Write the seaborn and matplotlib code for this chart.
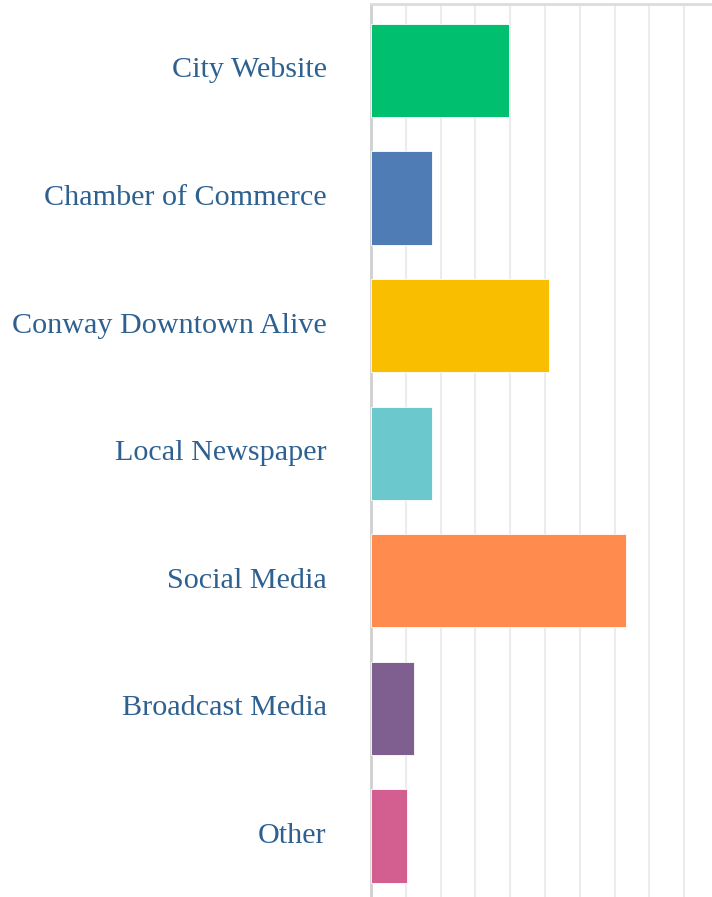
import pandas as pd
import seaborn as sns
import matplotlib.pyplot as plt
import numpy as np

# survey data (one gridline = 2)
categories = ['City Website', 'Chamber of Commerce', 'Conway Downtown Alive',
              'Local Newspaper', 'Social Media', 'Broadcast Media', 'Other']
values = [7.95, 3.5, 10.25, 3.5, 14.65, 2.48, 2.06]
colors = ['#00bf6f', '#507cb6', '#f9be00', '#6bc8cd', '#ff8b4f', '#7f5f90', '#d25f90']

sns.set_style('white')
plt.rcParams['font.family'] = ['Liberation Serif', 'DejaVu Serif']

data = pd.DataFrame({'cat': categories, 'val': values})

fig = plt.figure(figsize=(7.12, 8.97), dpi=100)
ax = fig.add_axes([371 / 712, 0.0, 1 - 371 / 712, 1 - 4.5 / 897])

sns.barplot(data=data, y='cat', x='val', hue='cat', palette=colors, legend=False,
            orient='h', width=0.73, saturation=1, ax=ax,
            edgecolor='#ffffff', linewidth=0.6, zorder=3)

step = 2
ax.set_xlim(0, 9.8 * step)
ax.set_xticks(np.arange(0, 10 * step, step))
ax.set_ylim(6.478, -0.517)
ax.grid(axis='x', color='#ececec', linewidth=1.5, zorder=0)
ax.set_axisbelow(True)

ax.tick_params(axis='x', length=0, labelbottom=False)
ax.tick_params(axis='y', length=0, pad=32, labelsize=21.7, labelcolor='#2e6190')
for lab in ax.get_yticklabels():
    lab.set_va('center')
ax.set_xlabel('')
ax.set_ylabel('')

for s in ['right', 'bottom']:
    ax.spines[s].set_visible(False)
ax.spines['left'].set_color('#d0d0d0')
ax.spines['left'].set_linewidth(2)
ax.spines['top'].set_color('#dcdcdc')
ax.spines['top'].set_linewidth(2)

plt.savefig('out.png', dpi=100)
